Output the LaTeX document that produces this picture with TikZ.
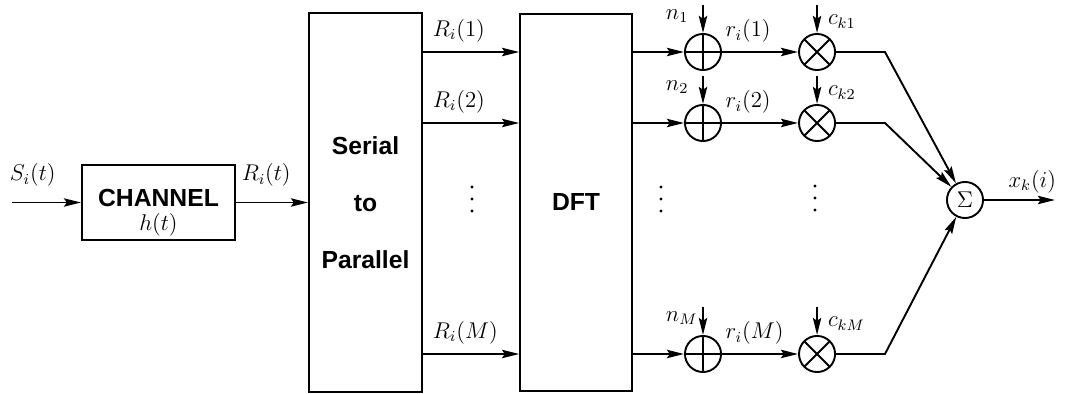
\documentclass[tikz,border=0pt]{standalone}
\usepackage{fontspec}
\setsansfont{Liberation Sans}
\usetikzlibrary{positioning,arrows.meta}

\begin{document}
\begin{tikzpicture}[
  x=0.0185cm, y=-0.0185cm,
  line width=1pt,
  font=\fontsize{11.5}{14}\selectfont,
  box/.style={rectangle,draw,inner sep=0pt,align=center,
              font=\sffamily\bfseries\fontsize{13}{15}\selectfont},
  arrow/.style={-{Stealth[length=9pt,width=4.4pt,inset=1.5pt]}},
  addnode/.style={circle,draw,minimum size=0.667cm,inner sep=0pt,
              path picture={\draw (path picture bounding box.north) -- (path picture bounding box.south)
                                  (path picture bounding box.west) -- (path picture bounding box.east);}},
  mulnode/.style={circle,draw,minimum size=0.667cm,inner sep=0pt,
              path picture={\draw (path picture bounding box.north west) -- (path picture bounding box.south east)
                                  (path picture bounding box.north east) -- (path picture bounding box.south west);}},
  sumnode/.style={circle,draw,minimum size=0.667cm,inner sep=0pt}
]
  \useasboundingbox (0,0) rectangle (1068,394);

  % blocks
  \node[box,minimum width=2.83cm,minimum height=1.39cm] (chan) at (158.5,202.5) {};
  \node[box,draw=none] (chantxt) at ([yshift=-0.19cm]chan.center) {CHANNEL\\[-2pt]$h(t)$};
  \node[box,minimum width=2.09cm,minimum height=7cm,right=1.333cm of chan] (s2p)
        {Serial\\[15pt]to\\[15pt]Parallel};
  \node[box,minimum width=2.07cm,minimum height=6.98cm,right=1.778cm of s2p] (dft) {DFT};

  % adders, multipliers, sum
  \node[addnode] (add1) at (703,52) {};
  \node[addnode] (add2) at (703,123) {};
  \node[addnode] (addM) at (703,354) {};
  \node[mulnode,right=1.407cm of add1] (mul1) {};
  \node[mulnode,right=1.407cm of add2] (mul2) {};
  \node[mulnode,right=1.407cm of addM] (mulM) {};
  \node[sumnode] (sum) at (965,200) {$\Sigma$};

  \coordinate (in)  at (12,202.5);
  \coordinate (out) at (1055,200);
  \coordinate (k1)  at (885,52);
  \coordinate (k2)  at (885,123);
  \coordinate (kM)  at (885,354);

  % vertical dots
  \foreach \x/\y in {472/199,661/199,815/198}
    \foreach \d in {-12,0,12}
      \fill (\x,\y+\d) circle (0.85pt);

  % input and channel
  \draw[arrow] (in) -- node[pos=0.3,above=4.5pt]{$S_i(t)$} (chan);
  \draw[arrow] (chan) -- node[pos=0.42,above=4.5pt]{$R_i(t)$} (s2p);

  % parallel branches
  \draw[arrow] (s2p.east |- add1) -- node[pos=0,above right=2pt]{$R_i(1)$} (dft.west |- add1);
  \draw[arrow] (s2p.east |- add2) -- node[pos=0,above right=2pt]{$R_i(2)$} (dft.west |- add2);
  \draw[arrow] (s2p.east |- addM) -- node[pos=0,above right=2pt]{$R_i(M)$} (dft.west |- addM);

  \draw[arrow] (dft.east |- add1) -- (add1);
  \draw[arrow] (dft.east |- add2) -- (add2);
  \draw[arrow] (dft.east |- addM) -- (addM);

  \draw[arrow] ([yshift=0.52cm]add1.north) node[anchor=north west,xshift=-0.82cm,yshift=0.05cm]{$n_1$} -- (add1);
  \draw[arrow] ([yshift=0.52cm]add2.north) node[anchor=north west,xshift=-0.82cm,yshift=0.05cm]{$n_2$} -- (add2);
  \draw[arrow] ([yshift=0.52cm]addM.north) node[anchor=north west,xshift=-0.82cm,yshift=0.05cm]{$n_M$} -- (addM);

  \draw[arrow] (add1) -- node[pos=0,above right=1.5pt,xshift=-3pt]{$r_i(1)$} (mul1);
  \draw[arrow] (add2) -- node[pos=0,above right=1.5pt,xshift=-3pt]{$r_i(2)$} (mul2);
  \draw[arrow] (addM) -- node[pos=0,above right=1.5pt,xshift=-3pt]{$r_i(M)$} (mulM);

  \draw[arrow] ([yshift=0.52cm]mul1.north) node[anchor=north west,xshift=0.07cm,yshift=-0.05cm]{$c_{k1}$} -- (mul1);
  \draw[arrow] ([yshift=0.52cm]mul2.north) node[anchor=north west,xshift=0.07cm,yshift=-0.05cm]{$c_{k2}$} -- (mul2);
  \draw[arrow] ([yshift=0.52cm]mulM.north) node[anchor=north west,xshift=0.07cm,yshift=-0.05cm]{$c_{kM}$} -- (mulM);

  % combining
  \draw[arrow] (mul1) -- (k1) -- (sum);
  \draw[arrow] (mul2) -- (k2) -- (sum);
  \draw[arrow] (mulM) -- (kM) -- (sum);
  \draw[arrow] (sum) -- node[pos=0.68,above]{$x_k(i)$} (out);
\end{tikzpicture}
\end{document}
